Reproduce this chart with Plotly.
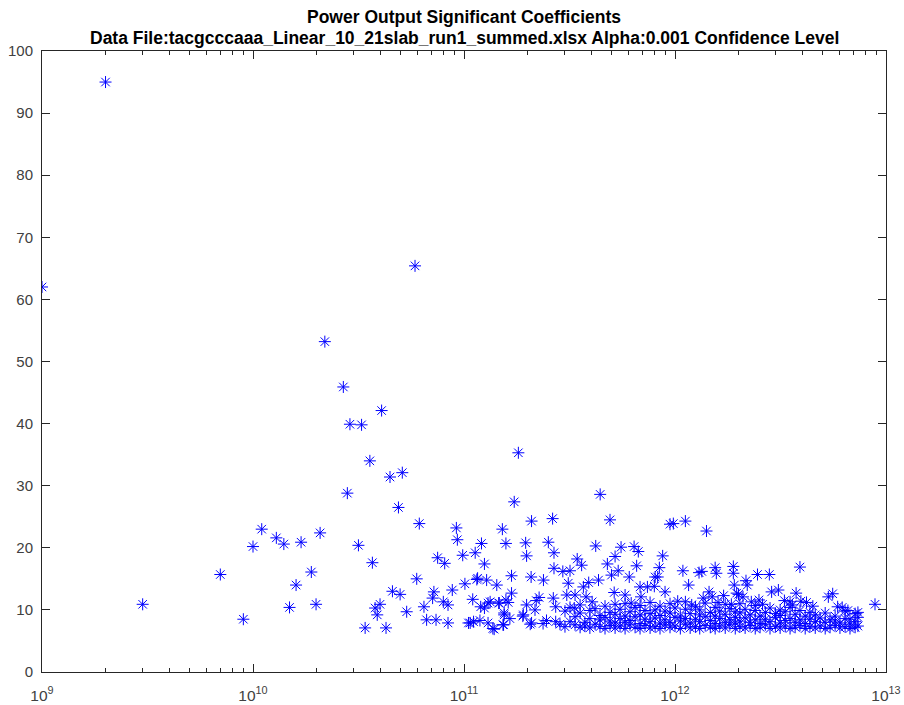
import plotly.graph_objects as go

# --- sparse, high-coefficient terms (x: frequency-like scale, y: significance) ---
sparse_x = [1e9, 2e9, 3e9, 7e9, 9e9, 1e10, 1.1e10, 1.29e10, 1.4e10, 1.49e10,
            1.6e10, 1.69e10, 1.89e10, 1.99e10, 2.08e10, 2.19e10, 2.68e10, 2.8e10,
            2.88e10, 3.16e10, 3.27e10, 3.4e10, 3.58e10, 3.68e10, 3.79e10, 3.88e10,
            4.0e10, 4.07e10, 4.27e10, 4.46e10, 4.58e10, 4.89e10, 4.98e10, 5.1e10,
            5.35e10, 5.86e10, 5.97e10, 6.14e10, 6.46e10, 6.65e10, 7.1e10, 7.2e10,
            7.37e10, 7.5e10, 7.98e10, 8.1e10, 8.4e10, 8.4e10, 8.8e10, 9.2e10, 9.3e10]
sparse_y = [62.0, 95.0, 10.9, 15.7, 8.5, 20.2, 23.0, 21.6, 20.6, 10.4,
            14.0, 20.9, 16.1, 10.9, 22.4, 53.2, 45.9, 28.8,
            39.9, 20.4, 39.8, 7.1, 34.0, 17.6, 10.3, 9.2,
            10.9, 42.1, 7.1, 31.4, 13.0, 26.5, 12.5, 32.1,
            9.7, 65.4, 15.0, 23.9, 10.5, 8.4, 11.9, 12.9,
            8.4, 18.4, 11.3, 17.5, 10.8, 7.9, 13.2, 23.2, 21.3]

# --- mid-range terms between 1e11 and 1e13 ---
mid_x = [9.86e10, 1.01e11, 1.05e11, 1.07e11, 1.1e11, 1.11e11, 1.13e11, 1.15e11,
         1.16e11, 1.19e11, 1.2e11, 1.21e11, 1.25e11, 1.25e11, 1.28e11, 1.3e11,
         1.3e11, 1.33e11, 1.37e11, 1.39e11, 1.43e11, 1.46e11, 1.47e11, 1.52e11,
         1.53e11, 1.54e11, 1.55e11, 1.55e11, 1.58e11, 1.58e11, 1.62e11, 1.65e11,
         1.68e11, 1.68e11, 1.73e11, 1.81e11, 1.9e11, 1.91e11, 1.96e11, 1.98e11,
         1.98e11, 2.06e11, 2.08e11, 2.09e11, 2.09e11, 2.17e11, 2.2e11, 2.27e11,
         2.37e11, 2.38e11, 2.46e11, 2.51e11, 2.63e11, 2.65e11, 2.67e11, 2.67e11,
         2.72e11, 2.72e11, 2.85e11, 2.94e11, 3.07e11, 3.12e11, 3.18e11, 3.33e11,
         3.36e11, 3.44e11, 3.61e11, 3.68e11, 3.79e11, 3.9e11, 4.05e11, 4.21e11,
         4.34e11, 4.42e11, 4.78e11, 4.92e11, 5.0e11, 5.15e11, 5.2e11, 5.38e11,
         5.55e11, 5.8e11, 6.07e11, 6.2e11, 6.4e11, 6.58e11, 6.7e11, 6.83e11,
         6.9e11, 7.4e11, 7.98e11, 8.05e11, 8.28e11, 8.43e11, 8.74e11, 8.97e11,
         9.47e11, 9.82e11, 1.09e12, 1.12e12, 1.16e12, 1.3e12, 1.34e12, 1.41e12,
         1.45e12, 1.5e12, 1.55e12, 1.57e12, 1.89e12, 1.89e12, 1.91e12, 1.96e12,
         2.1e12, 2.17e12, 2.2e12, 2.46e12, 2.5e12, 2.8e12, 2.87e12, 3.09e12,
         3.51e12, 3.75e12, 3.91e12, 3.95e12, 5.33e12, 5.59e12, 5.9e12, 8.87e12,
         1.03e12, 1.2e12, 1.36e12, 1.6e12, 1.7e12, 1.85e12, 2.0e12, 2.3e12,
         2.6e12, 3.3e12, 3.6e12, 4.2e12, 4.5e12, 6.2e12, 6.6e12]
mid_y = [18.8, 14.2, 7.9, 7.9, 11.7, 8.1, 19.2, 14.9,
         15.1, 8.3, 10.5, 20.7, 17.4, 10.3, 14.8, 11.1,
         7.9, 11.3, 7.0, 6.9, 14.0, 11.1, 11.1, 23.0,
         7.6, 7.6, 9.5, 9.2, 20.7, 11.6, 11.2, 8.6,
         15.5, 12.7, 27.4, 35.3, 9.0, 9.2, 20.8, 18.7,
         10.8, 7.7, 15.3, 24.3, 7.9, 10.0, 11.5, 12.0,
         7.8, 14.8, 8.3, 20.9, 24.7, 11.9, 19.2, 16.7,
         8.1, 10.5, 7.7, 16.2, 12.4, 14.3, 16.3, 10.3,
         12.4, 18.2, 17.2, 13.7, 12.1, 14.4, 11.3, 20.3,
         14.8, 28.6, 17.4, 24.5, 15.6, 12.8, 18.6, 16.3,
         20.1, 12.4, 15.3, 11.1, 20.2, 17.1, 19.4, 13.7,
         12.1, 13.7, 13.8, 15.3, 15.3, 16.8, 18.7, 12.9,
         23.8, 23.9, 16.3, 24.3, 14.0, 16.0, 16.2, 22.7,
         12.9, 12.1, 16.8, 15.9, 17.0, 15.9, 14.0, 12.7,
         12.1, 14.7, 14.0, 15.7, 11.6, 15.7, 12.9, 13.2,
         11.3, 12.7, 16.9, 11.4, 12.1, 12.6, 10.5, 10.9,
         11.4, 10.8, 11.9, 11.2, 12.3, 10.9, 12.5, 11.3,
         10.9, 11.5, 10.8, 11.2, 10.6, 10.4, 9.9]

# --- dense band of low-significance terms ---
band_x = [3.01e11, 3.01e11, 3.18e11, 3.18e11, 3.36e11, 3.36e11, 3.55e11, 3.55e11,
          3.55e11, 3.74e11, 3.74e11, 3.95e11, 3.95e11, 3.95e11, 4.18e11, 4.18e11,
          4.41e11, 4.41e11, 4.41e11, 4.66e11, 4.66e11, 4.66e11, 4.92e11, 4.92e11,
          4.92e11, 5.2e11, 5.2e11, 5.2e11, 5.2e11, 5.49e11, 5.49e11, 5.49e11,
          5.8e11, 5.8e11, 5.8e11, 5.8e11, 6.12e11, 6.12e11, 6.12e11, 6.47e11,
          6.47e11, 6.47e11, 6.83e11, 6.83e11, 6.83e11, 6.83e11, 7.21e11, 7.21e11,
          7.21e11, 7.62e11, 7.62e11, 7.62e11, 7.62e11, 8.05e11, 8.05e11, 8.05e11,
          8.49e11, 8.49e11, 8.49e11, 8.49e11, 8.97e11, 8.97e11, 8.97e11, 9.47e11,
          9.47e11, 9.47e11, 9.47e11, 1.0e12, 1.0e12, 1.0e12, 1.06e12, 1.06e12,
          1.06e12, 1.12e12, 1.12e12, 1.12e12, 1.12e12, 1.18e12, 1.18e12, 1.18e12,
          1.25e12, 1.25e12, 1.25e12, 1.31e12, 1.31e12, 1.31e12, 1.31e12, 1.39e12,
          1.39e12, 1.39e12, 1.47e12, 1.47e12, 1.47e12, 1.55e12, 1.55e12, 1.55e12,
          1.55e12, 1.63e12, 1.63e12, 1.63e12, 1.73e12, 1.73e12, 1.73e12, 1.73e12,
          1.82e12, 1.82e12, 1.82e12, 1.93e12, 1.93e12, 1.93e12, 1.93e12, 2.03e12,
          2.03e12, 2.03e12, 2.03e12, 2.15e12, 2.15e12, 2.15e12, 2.27e12, 2.27e12,
          2.27e12, 2.4e12, 2.4e12, 2.4e12, 2.4e12, 2.53e12, 2.53e12, 2.53e12,
          2.68e12, 2.68e12, 2.68e12, 2.82e12, 2.82e12, 2.82e12, 2.99e12, 2.99e12,
          2.99e12, 3.15e12, 3.15e12, 3.15e12, 3.15e12, 3.33e12, 3.33e12, 3.33e12,
          3.51e12, 3.51e12, 3.51e12, 3.71e12, 3.71e12, 3.71e12, 3.91e12, 3.91e12,
          3.91e12, 4.14e12, 4.14e12, 4.14e12, 4.36e12, 4.36e12, 4.36e12, 4.62e12,
          4.62e12, 4.62e12, 4.87e12, 4.87e12, 5.15e12, 5.15e12, 5.15e12, 5.43e12,
          5.43e12, 5.74e12, 5.74e12, 5.74e12, 6.05e12, 6.05e12, 6.4e12, 6.4e12,
          6.4e12, 6.75e12, 6.75e12, 6.75e12, 7.14e12, 7.14e12, 7.14e12, 7.36e12,
          7.36e12, 7.36e12]
band_y = [7.3, 9.8, 8.1, 10.4, 7.6, 8.9, 7.2, 9.5,
          10.8, 8.0, 7.4, 7.1, 8.6, 9.9, 7.7, 10.2,
          7.3, 8.4, 9.1, 7.0, 8.8, 10.6, 7.5, 8.2,
          9.6, 7.1, 7.9, 9.3, 10.9, 7.4, 8.6, 10.1,
          7.0, 8.0, 9.0, 11.0, 7.6, 8.3, 9.7, 7.2,
          8.9, 10.4, 7.0, 7.8, 9.2, 10.7, 7.5, 8.5,
          9.9, 7.1, 8.1, 9.4, 11.2, 7.3, 8.7, 10.0,
          7.0, 7.9, 9.1, 10.6, 7.6, 8.4, 9.8, 7.2,
          8.0, 9.5, 11.0, 7.4, 8.8, 10.3, 7.0, 8.2,
          9.0, 7.7, 8.6, 10.1, 11.3, 7.1, 7.9, 9.4,
          7.3, 8.5, 10.5, 7.0, 8.1, 9.2, 10.0, 7.5,
          8.9, 11.1, 7.2, 8.3, 9.6, 7.0, 7.8, 9.0,
          10.4, 7.4, 8.6, 9.8, 7.1, 8.0, 9.3, 10.9,
          7.6, 8.4, 10.2, 7.0, 7.9, 8.8, 9.7, 7.3,
          8.2, 9.5, 11.0, 7.1, 8.7, 10.1, 7.5, 8.0,
          9.2, 7.0, 8.4, 9.9, 10.7, 7.2, 7.8, 9.0,
          7.6, 8.5, 9.6, 7.0, 8.1, 10.3, 7.3, 8.8,
          9.4, 7.1, 7.9, 9.1, 10.0, 7.4, 8.3, 9.7,
          7.0, 8.6, 10.4, 7.2, 8.0, 9.3, 7.5, 8.4,
          9.9, 7.0, 7.8, 9.0, 7.3, 8.5, 9.6, 7.1,
          8.1, 9.2, 7.4, 8.7, 7.0, 8.0, 9.5, 7.2,
          8.4, 7.5, 8.2, 9.0, 7.1, 7.9, 7.3, 8.6,
          9.8, 7.0, 7.7, 8.5, 7.2, 8.1, 9.4, 7.4,
          8.8, 9.6]

# axis ticks
x_tickvals = [1e9, 1e10, 1e11, 1e12, 1e13]
x_ticktext = ["10<sup>9</sup>", "10<sup>10</sup>", "10<sup>11</sup>",
              "10<sup>12</sup>", "10<sup>13</sup>"]
x_minor = [m * 10 ** e for e in range(9, 13) for m in range(2, 10)]
y_tickvals = [0, 10, 20, 30, 40, 50, 60, 70, 80, 90, 100]

title_lines = ["Power Output Significant Coefficients",
               "Data File:tacgcccaaa_Linear_10_21slab_run1_summed.xlsx Alpha:0.001 Confidence Level"]

all_x = sparse_x + mid_x + band_x
all_y = sparse_y + mid_y + band_y

W, H = 904, 705
L, R, T, B = 42, 18, 51, 33
axis_col = "#262626"
label_col = "#404040"
font_fam = "Liberation Sans, Arial, sans-serif"

fig = go.Figure()
fig.add_trace(go.Scatter(
    x=all_x, y=all_y, mode="markers",
    marker=dict(symbol="asterisk-open", size=10, color="#0000ff",
                line=dict(color="#0000ff", width=1)),
    showlegend=False,
))

# two-line bold title, centred over the axes box
plot_h = H - T - B
title_y_px = [17, 38]
for line, ypx in zip(title_lines, title_y_px):
    fig.add_annotation(
        text="<b>" + line + "</b>", showarrow=False,
        xref="paper", yref="paper", x=0.5, xanchor="center",
        y=1 + (T - ypx) / plot_h, yanchor="middle",
        font=dict(family=font_fam, size=17.5, color="black"),
    )

fig.update_layout(
    width=W, height=H,
    margin=dict(l=L, r=R, t=T, b=B, autoexpand=False),
    paper_bgcolor="white", plot_bgcolor="white",
    font=dict(family=font_fam, size=15, color=label_col),
)

fig.update_xaxes(
    type="log", range=[9, 13], automargin=False,
    tickmode="array", tickvals=x_tickvals, ticktext=x_ticktext,
    ticks="inside", ticklen=8, tickwidth=1, tickcolor=axis_col,
    minor=dict(tickmode="array", tickvals=x_minor, ticks="inside",
               ticklen=4, tickcolor=axis_col, showgrid=False),
    showline=True, linecolor=axis_col, linewidth=1, mirror="allticks",
    showgrid=False, zeroline=False, ticklabelstandoff=9,
    tickfont=dict(size=15.5, color=label_col),
)
fig.update_yaxes(
    range=[0, 100], tickmode="array", tickvals=y_tickvals, automargin=False,
    ticks="inside", ticklen=8, tickwidth=1, tickcolor=axis_col,
    showline=True, linecolor=axis_col, linewidth=1, mirror="allticks",
    showgrid=False, zeroline=False, ticklabelstandoff=5,
    tickfont=dict(size=15, color=label_col),
)

fig.write_html("out.html")
